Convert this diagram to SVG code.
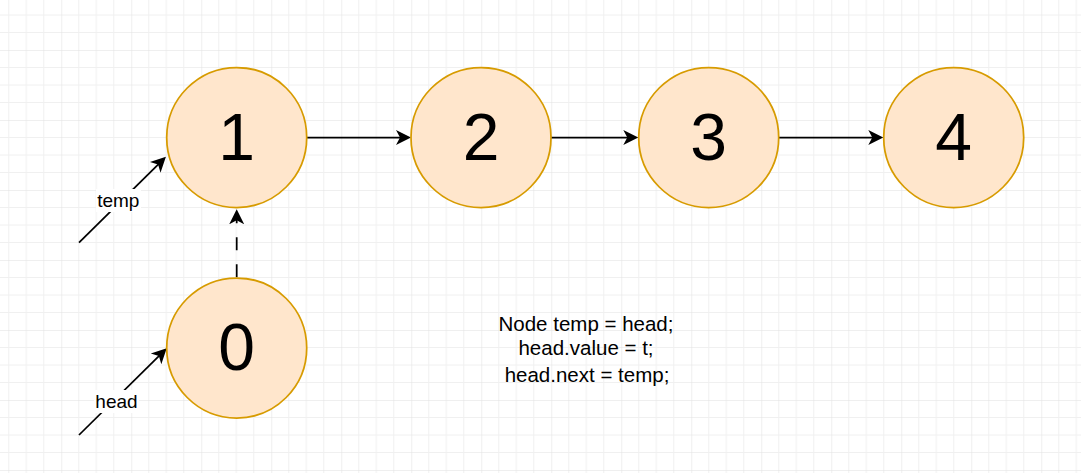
<svg xmlns="http://www.w3.org/2000/svg" width="1081" height="473" viewBox="0 0 1081 473">
  <defs>
    <pattern id="grid" patternUnits="userSpaceOnUse" x="61.25" y="50" width="70" height="70">
      <path d="M17.5 0V70M35 0V70M52.5 0V70M0 17.5H70M0 35H70M0 52.5H70" stroke="#f0f0f0" stroke-width="1" fill="none"/>
      <path d="M0 0V70M0 0H70" stroke="#e0e0e0" stroke-width="1" fill="none"/>
    </pattern>
    <marker id="arrow" markerUnits="userSpaceOnUse" markerWidth="20" markerHeight="20" viewBox="0 0 20 20" refX="5" refY="10" orient="auto">
      <path d="M0,2.5 L15,10 L0,17.5 L4,10 Z" fill="#000"/>
    </marker>
    <style>
      .node circle { fill: #ffe6cc; stroke: #d79b00; stroke-width: 1.75; }
      .node text { font-family: "Liberation Sans", Arial, sans-serif; font-size: 66px; text-anchor: middle; fill: #000; }
      .edge { stroke: #000; stroke-width: 1.75; fill: none; marker-end: url(#arrow); }
      .lbl { font-family: "Liberation Sans", Arial, sans-serif; font-size: 19px; text-anchor: middle; fill: #000; }
      .code { font-family: "Liberation Sans", Arial, sans-serif; font-size: 20.5px; text-anchor: middle; fill: #000; }
    </style>
  </defs>
  <rect x="0" y="0" width="1081" height="473" fill="#ffffff"/>
  <rect x="0" y="0" width="1081" height="473" fill="url(#grid)"/>

  <g id="connectors">
    <path class="edge" d="M306.7 137.5H401"/>
    <path class="edge" d="M551 137.5H628.3"/>
    <path class="edge" d="M779 137.5H873.3"/>
    <path class="edge" d="M236.7 277.3V219.3" stroke-dasharray="13 14"/>
    <path class="edge" d="M79 242.7L158.8 163.8"/>
    <path class="edge" d="M79 435L159.6 355.4"/>
    <rect x="96" y="189" width="45" height="23" fill="#ffffff"/>
    <text class="lbl" x="118.3" y="206.5">temp</text>
    <rect x="94" y="390" width="45" height="23" fill="#ffffff"/>
    <text class="lbl" x="116.5" y="408">head</text>
  </g>

  <g id="node1" class="node">
    <circle cx="236.7" cy="137.5" r="70"/>
    <text x="236.7" y="159.5">1</text>
  </g>
  <g id="node2" class="node">
    <circle cx="481" cy="137.5" r="70"/>
    <text x="481" y="159.5">2</text>
  </g>
  <g id="node3" class="node">
    <circle cx="708.7" cy="137.5" r="70"/>
    <text x="708.7" y="159.5">3</text>
  </g>
  <g id="node4" class="node">
    <circle cx="953.7" cy="137.5" r="70"/>
    <text x="953.7" y="159.5">4</text>
  </g>
  <g id="node0" class="node">
    <circle cx="236.7" cy="348" r="70"/>
    <text x="236.7" y="369.5">0</text>
  </g>

  <g id="code">
    <text class="code" x="586" y="330.5">Node temp = head;</text>
    <text class="code" x="586" y="354.5">head.value = t;</text>
    <text class="code" x="587" y="381.5">head.next = temp;</text>
  </g>
</svg>
